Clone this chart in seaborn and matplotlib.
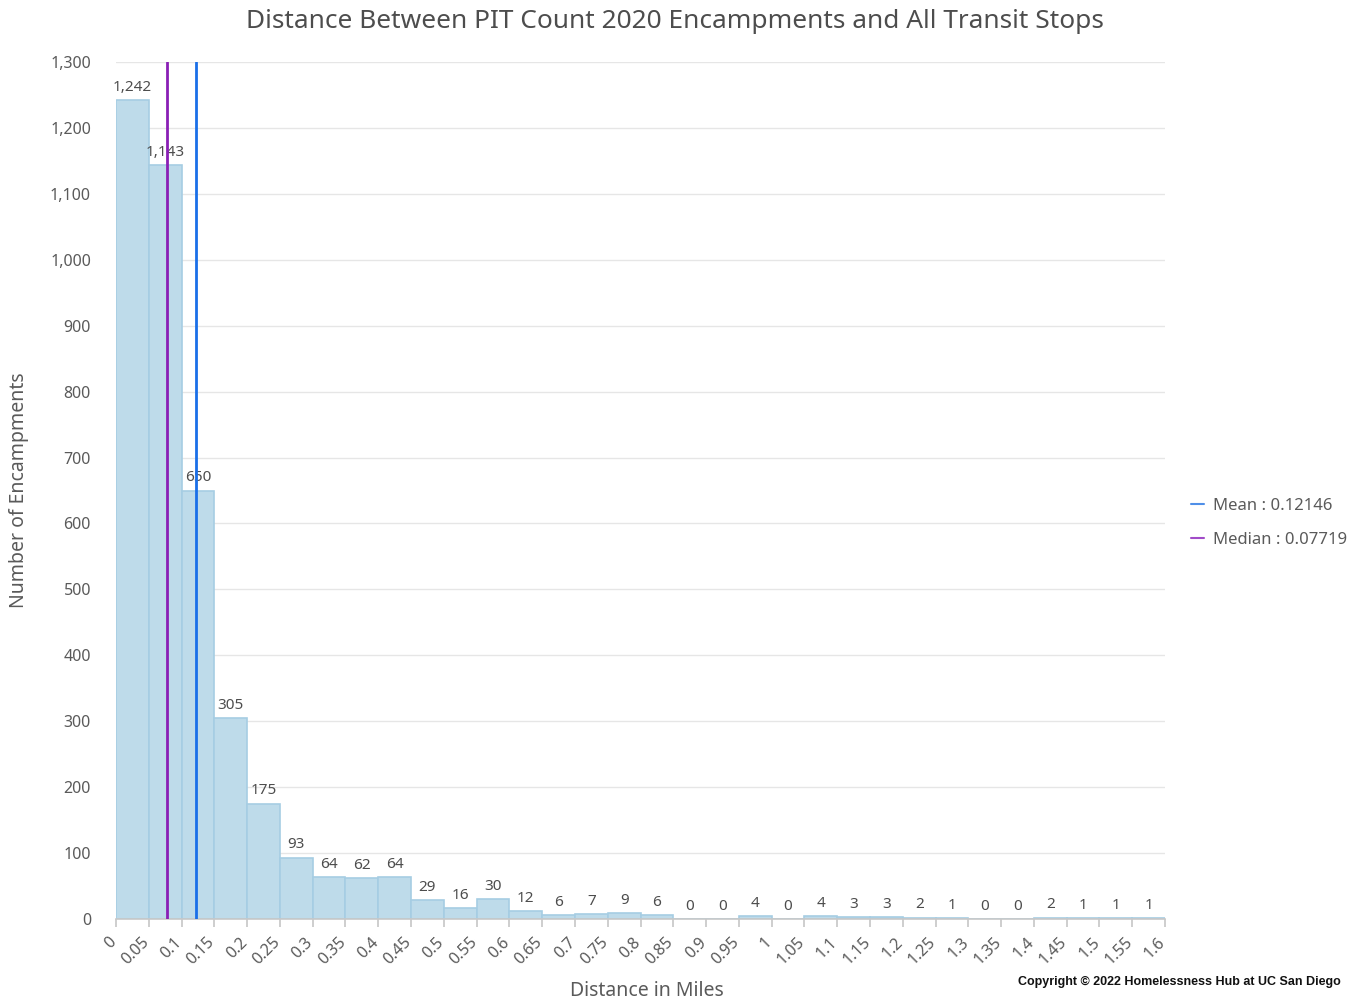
import numpy as np
import pandas as pd
import matplotlib
matplotlib.use("Agg")
import matplotlib.pyplot as plt
from matplotlib.ticker import FuncFormatter, MultipleLocator
from matplotlib.lines import Line2D
import matplotlib.transforms as mtrans
import seaborn as sns

# ---- data ----
bin_left = [round(i * 0.05, 2) for i in range(32)]
counts = [1242, 1143, 650, 305, 175, 93, 64, 62, 64, 29, 16, 30, 12, 6, 7, 9,
          6, 0, 0, 4, 0, 4, 3, 3, 2, 1, 0, 0, 2, 1, 1, 1]
tick_labels = ["0", "0.05", "0.1", "0.15", "0.2", "0.25", "0.3", "0.35", "0.4", "0.45",
               "0.5", "0.55", "0.6", "0.65", "0.7", "0.75", "0.8", "0.85", "0.9", "0.95",
               "1", "1.05", "1.1", "1.15", "1.2", "1.25", "1.3", "1.35", "1.4", "1.45",
               "1.5", "1.55", "1.6"]
mean_val = 0.12146
median_val = 0.07719

sns.set_theme(style="white")
plt.rcParams['font.family'] = ['Noto Sans', 'DejaVu Sans']
text_col = "#5a5a5a"

fig = plt.figure(figsize=(13.56, 10.02), dpi=100)
ax = fig.add_axes([116/1356, 83/1002, 1049/1356, 857/1002])

df = pd.DataFrame({"x": [b + 0.025 for b in bin_left], "w": counts})
edges = [round(i * 0.05, 2) for i in range(33)]
sns.histplot(data=df, x="x", weights="w", bins=edges, ax=ax,
             color="#bedbea", edgecolor="#a6cde3", linewidth=1.2, alpha=1.0)

ax.set_xlim(0, 1.6)
ax.set_ylim(0, 1300)
ax.yaxis.set_major_locator(MultipleLocator(100))
ax.yaxis.set_major_formatter(FuncFormatter(lambda v, p: f"{int(v):,}"))
ax.grid(axis="y", color="#e6e6e6", linewidth=1)
ax.set_axisbelow(True)
for s in ["top", "right", "left"]:
    ax.spines[s].set_visible(False)
ax.spines["bottom"].set_color("#c8c8c8")
ax.spines["bottom"].set_linewidth(1.2)

ax.tick_params(axis="x", bottom=True, length=6, color="#c8c8c8", pad=4)
ax.tick_params(axis="y", left=False, labelsize=11.5, labelcolor=text_col, pad=12)
ax.set_xticks(edges)
ax.set_xticklabels(tick_labels, rotation=45, ha="right", va="center",
                   rotation_mode="anchor", fontsize=11.5, color=text_col)
offset = mtrans.ScaledTranslation(-2/100, -7/100, fig.dpi_scale_trans)
for lbl in ax.get_xticklabels():
    lbl.set_transform(lbl.get_transform() + offset)

# value labels
for b, c in zip(bin_left, counts):
    ax.text(b + 0.025, c + 8, f"{c:,}", ha="center", va="bottom",
            fontsize=11, color="#4d4d4d")

# mean / median lines
ax.axvline(median_val, color="#8a1fb5", linewidth=2, zorder=5)
ax.axvline(mean_val, color="#1a6fe8", linewidth=2, zorder=5)

ax.set_xlabel("Distance in Miles", fontsize=14, color=text_col)
ax.xaxis.label.set_va("center")
ax.xaxis.set_label_coords((647 - 116) / 1049, -(991 - 919) / 857)
ax.set_ylabel("Number of Encampments", fontsize=14, color=text_col)
ax.yaxis.label.set_va("center")
ax.yaxis.set_label_coords(-(116 - 19) / 1049, (919 - 490) / 857)

fig.text(675/1356, 1 - 21/1002, "Distance Between PIT Count 2020 Encampments and All Transit Stops",
         ha="center", va="center", fontsize=18.9, color="#4d4d4d")

handles = [Line2D([0], [0], color="#4f8fe8", lw=1.5),
           Line2D([0], [0], color="#a14bc8", lw=1.5)]
fig.legend(handles, ["Mean : 0.12146", "Median : 0.07719"],
           loc="center left", bbox_to_anchor=(1176/1356, 1 - 523/1002),
           frameon=False, handlelength=0.8, handletextpad=0.5,
           labelspacing=1.05, fontsize=12, labelcolor=text_col)

fig.text(1341/1356, 1 - 982/1002, "Copyright © 2022 Homelessness Hub at UC San Diego",
         ha="right", va="center", fontsize=9, fontweight="bold", color="#111111",
         family=['Liberation Sans', 'DejaVu Sans'])

fig.savefig("out.png", dpi=100)
